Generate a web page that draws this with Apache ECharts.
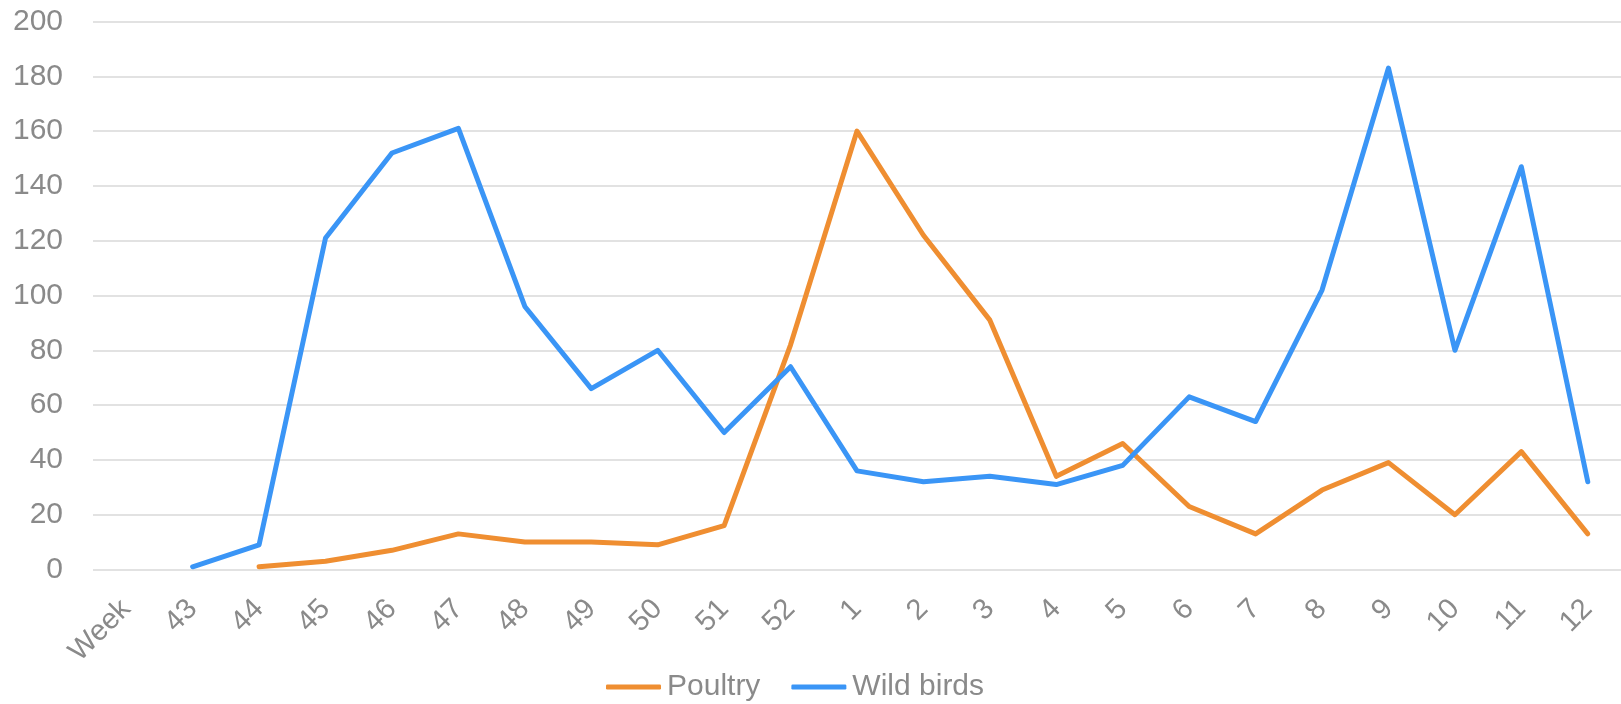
<!DOCTYPE html>
<html>
<head>
<meta charset="utf-8">
<script src="https://cdn.jsdelivr.net/npm/echarts@6/dist/echarts.min.js"></script>
<style>
html,body{margin:0;padding:0;background:#fff;}
#chart{width:1621px;height:704px;}
</style>
</head>
<body>
<div id="chart"></div>
<script>
const categories = ['Week','43','44','45','46','47','48','49','50','51','52','1','2','3','4','5','6','7','8','9','10','11','12'];
const poultry = [null,null,1,3,7,13,10,10,9,16,82,160,122,91,34,46,23,13,29,39,20,43,13];
const wildBirds = [null,1,9,121,152,161,96,66,80,50,74,36,32,34,31,38,63,54,102,183,80,147,32];
const seriesNames = ['Poultry','Wild birds'];
const yTicks = {min:0, max:200, interval:20};

const FONT = '"Liberation Sans", Arial, sans-serif';
const TXT = '#8a8a8a';
const chart = echarts.init(document.getElementById('chart'), null, {renderer:'canvas'});
chart.setOption({
  backgroundColor:'#ffffff',
  animation:false,
  grid:{left:93, right:0, top:21.5, height:548, containLabel:false},
  legend:{
    data:seriesNames,
    left:606, top:672,
    padding:0,
    icon:'roundRect',
    itemWidth:55, itemHeight:5,
    itemGap:31,
    textStyle:{color:TXT, fontSize:30, fontFamily:FONT, padding:[0,0,0,1]}
  },
  xAxis:{
    type:'category',
    data:categories,
    boundaryGap:true,
    axisLine:{show:false},
    axisTick:{show:false},
    splitLine:{show:false},
    axisLabel:{rotate:45, interval:0, color:TXT, fontSize:29, fontFamily:FONT, margin:35}
  },
  yAxis:{
    type:'value',
    min:yTicks.min, max:yTicks.max, interval:yTicks.interval,
    axisLine:{show:false},
    axisTick:{show:false},
    splitLine:{lineStyle:{color:'#e2e2e2', width:2}},
    axisLabel:{color:TXT, fontSize:30, fontFamily:FONT, margin:30}
  },
  series:[
    {name:seriesNames[0], type:'line', data:poultry, symbol:'none', connectNulls:false,
     itemStyle:{color:'#EF8E31'},
     lineStyle:{color:'#EF8E31', width:5, cap:'round', join:'round'}},
    {name:seriesNames[1], type:'line', data:wildBirds, symbol:'none', connectNulls:false,
     itemStyle:{color:'#3A95F6'},
     lineStyle:{color:'#3A95F6', width:5, cap:'round', join:'round'}}
  ]
});
</script>
</body>
</html>
